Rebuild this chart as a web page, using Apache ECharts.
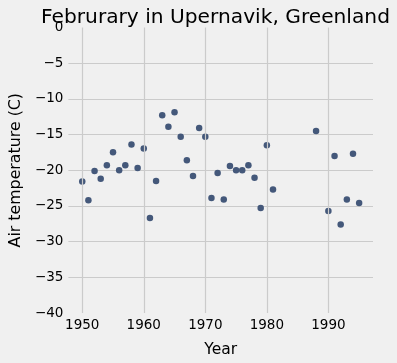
<!DOCTYPE html>
<html>
<head>
<meta charset="utf-8">
<script src="https://cdn.jsdelivr.net/npm/echarts@6/dist/echarts.min.js"></script>
<style>html,body{margin:0;padding:0;background:#f0f0f0;}#c{width:397px;height:363px;}</style>
</head>
<body>
<div id="c"></div>
<script>
const years = [1950,1951,1952,1953,1954,1955,1956,1957,1958,1959,1960,1961,1962,1963,1964,1965,1966,1967,1968,1969,1970,1971,1972,1973,1974,1975,1976,1977,1978,1979,1980,1981,1988,1990,1991,1992,1993,1994,1995];
const temps = [-21.6,-24.2,-20.1,-21.2,-19.3,-17.5,-20.0,-19.3,-16.4,-19.7,-16.95,-26.7,-21.5,-12.3,-13.9,-11.9,-15.3,-18.6,-20.8,-14.1,-15.3,-23.9,-20.4,-24.1,-19.4,-20.0,-20.0,-19.3,-21.05,-25.3,-16.5,-22.7,-14.5,-25.7,-18.0,-27.6,-24.1,-17.7,-24.6];
const xTicks = [1950,1960,1970,1980,1990];
const yTicks = [0,-5,-10,-15,-20,-25,-30,-35,-40];

const font = 'DejaVu Sans';
const chart = echarts.init(document.getElementById('c'), null, {renderer:'canvas'});
chart.setOption({
  backgroundColor:'#f0f0f0',
  animation:false,
  title:{
    text:'Februrary in Upernavik, Greenland',
    left:210.5, top:3, textAlign:'center',
    textStyle:{fontFamily:font,fontSize:20.2,fontWeight:'normal',color:'#000'}
  },
  grid:{left:59,right:24,top:27.4,bottom:43},
  xAxis:{
    type:'value', min:1947.75, max:1997.25,
    name:'Year', nameLocation:'middle', nameGap:29,
    nameTextStyle:{fontFamily:font,fontSize:15.5,color:'#000'},
    axisLine:{show:false}, axisTick:{show:false, customValues:xTicks},
    axisLabel:{customValues:xTicks, fontFamily:font, fontSize:13.5, color:'#000', margin:5,
      formatter:v=>String(v)},
    splitLine:{show:false}
  },
  yAxis:{
    type:'value', min:-40, max:0, interval:5,
    name:'Air temperature (C)', nameLocation:'middle', nameGap:38, nameRotate:90,
    nameTextStyle:{fontFamily:font,fontSize:15.8,color:'#000'},
    axisLine:{show:false}, axisTick:{show:false},
    axisLabel:{fontFamily:font, fontSize:13.5, color:'#000', margin:5,
      formatter:v=>String(v).replace('-','\u2212')},
    splitLine:{show:true, showMinLine:false, showMaxLine:false, lineStyle:{color:'#cbcbcb',width:1.2}}
  },
  series:[{
    type:'scatter',
    data:[],
    z:1,
    silent:true,
    markLine:{
      silent:true, symbol:'none', label:{show:false},
      lineStyle:{color:'#cbcbcb', width:1.2, type:'solid'},
      data:xTicks.map(v=>({xAxis:v}))
    }
  },{
    type:'scatter',
    z:3,
    data:years.map((y,i)=>[y,temps[i]]),
    symbolSize:6.5,
    itemStyle:{color:'#44587a', opacity:1}
  }]
});
</script>
</body>
</html>
